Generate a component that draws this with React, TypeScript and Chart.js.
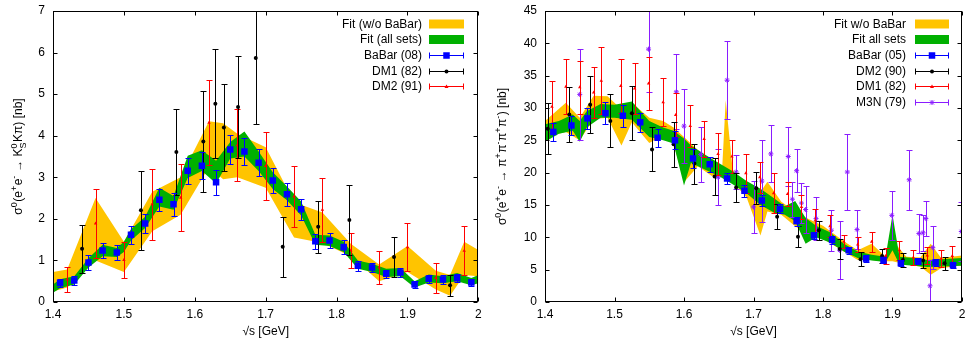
import React, { useEffect, useRef } from 'react';
import { Chart, registerables } from 'chart.js';
Chart.register(...registerables);

const FONT = '"Liberation Sans", Arial, Helvetica, sans-serif';

// ---------------- Left panel: e+e- -> K0S K pi ----------------
const kXTicks = [1.4, 1.5, 1.6, 1.7, 1.8, 1.9, 2.0];
const kYTicks = [0, 1, 2, 3, 4, 5, 6, 7];

const kYelX = [1.40, 1.42, 1.46, 1.50, 1.54, 1.58, 1.62, 1.64, 1.66, 1.70, 1.74, 1.78, 1.82, 1.86, 1.90, 1.94, 1.96, 1.98, 2.00];
const kYelLo = [0.25, 0.35, 1.0, 0.72, 1.7, 2.1, 3.25, 2.95, 3.0, 2.75, 1.55, 1.42, 1.1, 0.5, 0.72, 0.3, 0.15, 0.65, 0.62];
const kYelHi = [0.72, 0.78, 2.5, 1.45, 2.65, 3.0, 4.35, 4.3, 4.05, 3.72, 2.4, 2.15, 1.4, 0.9, 1.35, 0.75, 0.65, 1.45, 1.25];

const kGrnX = [1.40, 1.41, 1.43, 1.45, 1.47, 1.49, 1.50, 1.51, 1.53, 1.55, 1.57, 1.59, 1.61, 1.63, 1.65, 1.67, 1.69, 1.71, 1.73, 1.75, 1.77, 1.79, 1.81, 1.83, 1.85, 1.87, 1.89, 1.91, 1.93, 1.95, 1.97, 1.99, 2.00];
const kGrnLo = [0.22, 0.33, 0.42, 0.83, 1.1, 1.08, 1.2, 1.48, 1.78, 2.3, 2.22, 2.98, 3.15, 2.85, 3.45, 3.5, 3.15, 2.72, 2.45, 2.08, 1.38, 1.35, 1.2, 0.8, 0.72, 0.6, 0.62, 0.35, 0.47, 0.45, 0.5, 0.4, 0.45];
const kGrnHi = [0.42, 0.55, 0.62, 1.05, 1.38, 1.3, 1.45, 1.75, 2.05, 2.75, 2.55, 3.52, 3.65, 3.4, 3.85, 4.1, 3.62, 3.12, 2.78, 2.42, 1.62, 1.6, 1.45, 1.0, 0.92, 0.8, 0.82, 0.5, 0.66, 0.62, 0.7, 0.58, 0.65];

const kBabarX = [1.41, 1.43, 1.45, 1.47, 1.49, 1.51, 1.53, 1.55, 1.57, 1.59, 1.61, 1.63, 1.65, 1.67, 1.69, 1.71, 1.73, 1.75, 1.77, 1.79, 1.81, 1.83, 1.85, 1.87, 1.89, 1.91, 1.93, 1.95, 1.97, 1.99];
const kBabarY = [0.46, 0.52, 0.95, 1.24, 1.19, 1.62, 1.89, 2.46, 2.35, 3.16, 3.28, 2.88, 3.67, 3.62, 3.35, 2.92, 2.59, 2.23, 1.46, 1.48, 1.32, 0.87, 0.83, 0.68, 0.71, 0.42, 0.56, 0.54, 0.57, 0.47];
const kBabarE = [0.1, 0.1, 0.17, 0.18, 0.18, 0.22, 0.23, 0.27, 0.27, 0.31, 0.33, 0.3, 0.35, 0.33, 0.32, 0.3, 0.27, 0.25, 0.18, 0.19, 0.17, 0.12, 0.12, 0.1, 0.1, 0.08, 0.1, 0.1, 0.1, 0.09];

const kDm1X = [1.441, 1.524, 1.574, 1.612, 1.629, 1.641, 1.661, 1.686, 1.724, 1.774, 1.818, 1.881, 1.960];
const kDm1Y = [1.28, 2.21, 3.61, 3.86, 4.77, 4.2, 4.69, 5.87, 1.33, 1.81, 1.97, 1.08, 0.4];
const kDm1E = [0.58, 0.95, 1.04, 1.22, 1.31, 1.04, 1.22, 1.6, 0.72, 0.62, 0.85, 0.49, 0.25];

const kDm2X = [1.42, 1.46, 1.50, 1.54, 1.58, 1.62, 1.66, 1.70, 1.74, 1.78, 1.82, 1.86, 1.90, 1.94, 1.98];
const kDm2Y = [0.54, 1.89, 1.01, 2.35, 2.51, 4.31, 3.77, 3.27, 2.54, 2.22, 1.24, 0.83, 1.32, 0.58, 1.23];
const kDm2E = [0.31, 0.83, 0.44, 0.86, 0.8, 1.02, 0.87, 0.81, 0.73, 0.77, 0.43, 0.39, 0.57, 0.36, 0.59];

// ---------------- Right panel: e+e- -> pi+ pi- pi+ pi- ----------------
const pXTicks = [1.4, 1.5, 1.6, 1.7, 1.8, 1.9, 2.0];
const pYTicks = [0, 5, 10, 15, 20, 25, 30, 35, 40, 45];

const pYelX = [1.40, 1.43, 1.45, 1.47, 1.49, 1.51, 1.525, 1.55, 1.57, 1.585, 1.60, 1.62, 1.64, 1.655, 1.66, 1.67, 1.69, 1.71, 1.72, 1.74, 1.76, 1.78, 1.80, 1.83, 1.85, 1.87, 1.89, 1.90, 1.92, 1.94, 1.955, 1.97, 2.00];
const pYelLo = [25.5, 26.3, 25.0, 28.3, 28.5, 24.2, 27.8, 24.6, 25.8, 24.5, 18.5, 21.0, 19.5, 19.8, 20.0, 18.5, 16.2, 10.3, 14.0, 13.5, 11.7, 10.2, 9.8, 7.8, 6.5, 6.5, 6.3, 6.3, 5.8, 5.5, 4.2, 5.2, 5.7];
const pYelHi = [28.0, 30.8, 28.5, 31.9, 31.8, 29.8, 30.8, 28.5, 28.0, 27.0, 25.5, 23.5, 22.0, 20.8, 31.2, 20.5, 18.0, 17.0, 18.6, 15.5, 14.0, 12.8, 11.8, 9.4, 8.0, 9.0, 7.0, 9.5, 7.0, 6.9, 9.0, 6.8, 7.2];

const pGrnX = [1.40, 1.42, 1.44, 1.45, 1.46, 1.48, 1.50, 1.525, 1.55, 1.57, 1.585, 1.60, 1.61, 1.63, 1.65, 1.67, 1.69, 1.71, 1.73, 1.745, 1.76, 1.775, 1.79, 1.81, 1.83, 1.85, 1.87, 1.89, 1.90, 1.91, 1.93, 1.95, 1.97, 2.00];
const pGrnLo = [24.8, 26.0, 26.5, 24.8, 27.0, 28.5, 28.5, 28.2, 25.5, 25.0, 24.5, 18.0, 21.5, 20.5, 19.5, 18.2, 16.8, 15.0, 13.8, 13.5, 12.5, 9.0, 10.0, 9.2, 7.8, 6.8, 6.4, 6.2, 8.0, 5.8, 5.6, 5.4, 5.5, 5.6];
const pGrnHi = [27.5, 28.0, 29.0, 28.0, 29.5, 30.6, 30.5, 31.0, 28.0, 27.0, 26.5, 25.3, 24.2, 22.8, 21.5, 20.2, 18.7, 17.5, 16.0, 14.8, 15.6, 13.0, 11.8, 10.8, 9.0, 7.8, 7.3, 7.0, 13.5, 7.0, 6.8, 6.5, 6.6, 6.8];

const pBabarX = [1.412, 1.438, 1.461, 1.487, 1.512, 1.537, 1.562, 1.587, 1.613, 1.637, 1.662, 1.687, 1.712, 1.738, 1.762, 1.787, 1.813, 1.837, 1.862, 1.887, 1.912, 1.937, 1.962, 1.987];
const pBabarY = [26.3, 27.3, 28.4, 29.2, 28.8, 27.8, 25.4, 25.0, 22.2, 21.3, 19.1, 17.2, 15.7, 14.4, 12.5, 10.3, 9.6, 8.0, 6.7, 6.5, 6.0, 6.3, 6.1, 5.7];
const pBabarE = [1.4, 1.5, 1.6, 1.7, 1.7, 1.5, 1.4, 1.4, 1.5, 1.2, 0.9, 0.9, 0.8, 0.7, 0.7, 0.6, 0.6, 0.5, 0.5, 0.5, 0.5, 0.5, 0.5, 0.4];

const pDm2X = [1.404, 1.435, 1.465, 1.494, 1.525, 1.554, 1.585, 1.615, 1.644, 1.675, 1.704, 1.734, 1.764, 1.794, 1.824, 1.854, 1.885, 1.915, 1.944, 1.975];
const pDm2Y = [26.8, 29.0, 30.5, 28.0, 29.2, 23.6, 24.4, 21.4, 19.4, 17.7, 17.6, 13.2, 10.1, 11.1, 8.2, 6.6, 7.1, 6.5, 6.4, 6.0];
const pDm2E = [3.9, 4.2, 4.4, 4.1, 4.2, 3.4, 3.5, 3.1, 2.8, 2.3, 2.5, 1.9, 1.6, 1.5, 1.5, 1.1, 1.1, 1.1, 1.2, 1.0];

const pDm1X = [1.41, 1.43, 1.45, 1.47, 1.481, 1.509, 1.529, 1.549, 1.57, 1.588, 1.609, 1.629, 1.649, 1.669, 1.689, 1.709, 1.729, 1.749, 1.769, 1.789, 1.81, 1.83, 1.85, 1.87, 1.89, 1.91, 1.93, 1.95, 1.97, 1.986];
const pDm1Y = [30.2, 33.3, 33.2, 32.4, 34.2, 33.4, 33.0, 33.8, 30.9, 28.9, 27.2, 25.2, 22.9, 22.5, 19.9, 19.3, 16.8, 16.7, 14.7, 12.6, 11.7, 9.3, 8.9, 9.3, 7.1, 8.0, 6.9, 7.2, 6.7, 7.1];
const pDm1E = [3.9, 4.2, 4.1, 4.0, 5.2, 4.1, 4.0, 4.1, 3.7, 3.4, 3.2, 2.8, 3.3, 2.6, 3.0, 2.4, 3.1, 1.9, 1.8, 1.8, 1.7, 1.0, 1.2, 1.5, 1.2, 1.5, 1.2, 1.3, 1.3, 1.5];

const pM3nX = [1.45, 1.549, 1.589, 1.60, 1.624, 1.649, 1.662, 1.675, 1.70, 1.712, 1.725, 1.75, 1.756, 1.762, 1.769, 1.775, 1.79, 1.812, 1.824, 1.835, 1.849, 1.899, 1.924, 1.938, 1.944, 1.948, 1.954, 1.958, 1.999];
const pM3nY = [32.1, 39.1, 32.5, 27.2, 22.8, 19.3, 34.3, 20.1, 14.7, 18.7, 22.9, 22.5, 15.9, 20.3, 15.3, 14.3, 12.9, 11.1, 8.0, 20.1, 11.2, 13.4, 18.9, 10.6, 10.7, 12.9, 2.5, 8.4, 10.9];
const pM3nE = [7.0, 6.6, 5.8, 5.7, 4.3, 4.3, 6.0, 2.6, 4.0, 6.3, 4.4, 4.5, 2.7, 3.3, 3.1, 3.6, 3.3, 3.2, 4.5, 5.9, 3.0, 3.8, 4.6, 3.0, 2.8, 2.7, 4.0, 3.3, 4.6];

const YELLOW = '#ffc400';
const GREEN = '#00b000';
const BLUE = '#0000ff';
const BLACK = '#000000';
const RED = '#ff0000';
const PURPLE = '#8a1cff';

type Seg = { t?: string; sup?: string; sub?: string };
type Band = { x: number[]; lo: number[]; hi: number[]; color: string; label: string };
type Series = { label: string; x: number[]; y: number[]; e: number[]; color: string; style: string; radius: number };

const kTitle: Seg[] = [
  { t: 'σ' }, { sup: '0' }, { t: '(e' }, { sup: '+' }, { t: 'e' }, { sup: '-' }, { t: ' → K' }, { sup: '0', sub: 'S' }, { t: 'Kπ) [nb]' },
];
const pTitle: Seg[] = [
  { t: 'σ' }, { sup: '0' }, { t: '(e' }, { sup: '+' }, { t: 'e' }, { sup: '-' }, { t: ' → π' }, { sup: '+' }, { t: 'π' }, { sup: '-' },
  { t: 'π' }, { sup: '+' }, { t: 'π' }, { sup: '-' }, { t: ') [nb]' },
];

function drawRich(ctx: CanvasRenderingContext2D, segs: Seg[], cx: number, cy: number, size: number) {
  const nf = `${size}px ${FONT}`;
  const sf = `${Math.round(size * 0.72)}px ${FONT}`;
  const widths: number[] = [];
  let w = 0;
  segs.forEach((s) => {
    let m = 0;
    if (s.t !== undefined) {
      ctx.font = nf;
      m = ctx.measureText(s.t).width;
    } else {
      ctx.font = sf;
      m = Math.max(s.sup ? ctx.measureText(s.sup).width : 0, s.sub ? ctx.measureText(s.sub).width : 0) + 0.5;
    }
    widths.push(m);
    w += m;
  });
  ctx.save();
  ctx.translate(cx, cy);
  ctx.rotate(-Math.PI / 2);
  ctx.fillStyle = '#000';
  ctx.textAlign = 'left';
  ctx.textBaseline = 'alphabetic';
  let x = -w / 2;
  const base = size * 0.36;
  segs.forEach((s, i) => {
    if (s.t !== undefined) {
      ctx.font = nf;
      ctx.fillText(s.t, x, base);
    } else {
      ctx.font = sf;
      if (s.sup) ctx.fillText(s.sup, x, base - size * 0.45);
      if (s.sub) ctx.fillText(s.sub, x, base + size * 0.28);
    }
    x += widths[i];
  });
  ctx.restore();
}

function drawMarker(ctx: CanvasRenderingContext2D, style: string, x: number, y: number, r: number, color: string) {
  ctx.save();
  ctx.fillStyle = color;
  ctx.strokeStyle = color;
  ctx.lineWidth = 1;
  if (style === 'rect') {
    const s = r * Math.SQRT1_2;
    ctx.fillRect(x - s, y - s, 2 * s, 2 * s);
  } else if (style === 'circle') {
    ctx.beginPath();
    ctx.arc(x, y, r, 0, Math.PI * 2);
    ctx.fill();
  } else if (style === 'triangle') {
    ctx.beginPath();
    ctx.moveTo(x, y - r);
    ctx.lineTo(x + r, y + r * 0.7);
    ctx.lineTo(x - r, y + r * 0.7);
    ctx.closePath();
    ctx.fill();
  } else {
    const d = r * 0.8;
    ctx.beginPath();
    ctx.moveTo(x - d, y - d); ctx.lineTo(x + d, y + d);
    ctx.moveTo(x + d, y - d); ctx.lineTo(x - d, y + d);
    ctx.moveTo(x - r, y); ctx.lineTo(x + r, y);
    ctx.moveTo(x, y - r); ctx.lineTo(x, y + r);
    ctx.stroke();
  }
  ctx.restore();
}

type PanelProps = {
  width: number;
  yAxisWidth: number;
  yMax: number;
  xTicks: number[];
  yTicks: number[];
  bands: Band[];
  series: Series[];
  title: Seg[];
  titleX: number;
  legendTextRight: number;
  legendSampleL: number;
  legendSampleR: number;
};

function Panel(props: PanelProps) {
  const ref = useRef<HTMLCanvasElement | null>(null);
  useEffect(() => {
    const canvas = ref.current;
    if (!canvas) return;
    const { bands, series } = props;
    const datasets: any[] = [];
    bands.forEach((b, bi) => {
      datasets.push({
        label: b.label + ' lo',
        data: b.x.map((x, i) => ({ x, y: b.lo[i] })),
        borderColor: 'transparent',
        borderWidth: 0,
        pointRadius: 0,
        fill: false,
        tension: 0,
        order: 20 - bi,
      });
      datasets.push({
        label: b.label,
        data: b.x.map((x, i) => ({ x, y: b.hi[i] })),
        borderColor: 'transparent',
        borderWidth: 0,
        pointRadius: 0,
        backgroundColor: b.color,
        fill: '-1',
        tension: 0,
        order: 20 - bi,
      });
    });
    series.forEach((s) => {
      datasets.push({
        label: s.label,
        data: s.x.map((x, i) => ({ x, y: s.y[i] })),
        errors: s.e,
        barColor: s.color,
        showLine: false,
        pointStyle: s.style,
        pointRadius: s.radius,
        pointBackgroundColor: s.color,
        pointBorderColor: s.color,
        pointBorderWidth: s.style === 'star' ? 1 : 0,
        order: 0,
      });
    });

    const errPlugin = {
      id: 'errbars',
      beforeDatasetDraw(chart: any, args: any) {
        const ds: any = chart.data.datasets[args.index];
        if (!ds.errors) return;
        const { ctx, chartArea } = chart;
        const xs = chart.scales.x, ys = chart.scales.y;
        ctx.save();
        ctx.beginPath();
        ctx.rect(chartArea.left, chartArea.top, chartArea.right - chartArea.left, chartArea.bottom - chartArea.top);
        ctx.clip();
        ctx.strokeStyle = ds.barColor;
        ctx.lineWidth = 1;
        ds.data.forEach((p: any, i: number) => {
          const e = ds.errors[i];
          const px = Math.round(xs.getPixelForValue(p.x)) + 0.5;
          const y1 = Math.round(ys.getPixelForValue(p.y + e)) + 0.5;
          const y2 = Math.round(ys.getPixelForValue(p.y - e)) + 0.5;
          ctx.beginPath();
          ctx.moveTo(px, y1); ctx.lineTo(px, y2);
          ctx.moveTo(px - 3, y1); ctx.lineTo(px + 3, y1);
          ctx.moveTo(px - 3, y2); ctx.lineTo(px + 3, y2);
          ctx.stroke();
        });
        ctx.restore();
      },
    };

    const framePlugin = {
      id: 'frame',
      afterDraw(chart: any) {
        const { ctx, chartArea } = chart;
        const xs = chart.scales.x, ys = chart.scales.y;
        const L = Math.round(chartArea.left) + 0.5, R = Math.round(chartArea.right) - 0.5;
        const T = Math.round(chartArea.top) + 0.5, B = Math.round(chartArea.bottom) - 0.5;
        ctx.save();
        ctx.strokeStyle = '#000';
        ctx.lineWidth = 1;
        ctx.strokeRect(L, T, R - L, B - T);
        ctx.beginPath();
        props.xTicks.forEach((v) => {
          const px = Math.round(xs.getPixelForValue(v)) + 0.5;
          ctx.moveTo(px, T); ctx.lineTo(px, T + 4);
          ctx.moveTo(px, B); ctx.lineTo(px, B - 4);
        });
        props.yTicks.forEach((v) => {
          const py = Math.round(ys.getPixelForValue(v)) + 0.5;
          ctx.moveTo(L, py); ctx.lineTo(L + 4, py);
          ctx.moveTo(R, py); ctx.lineTo(R - 4, py);
        });
        ctx.stroke();
        // y-axis title
        drawRich(ctx, props.title, props.titleX, (chartArea.top + chartArea.bottom) / 2, 12);
        ctx.restore();
      },
    };

    const legendPlugin = {
      id: 'glegend',
      afterDraw(chart: any) {
        const { ctx } = chart;
        const y0 = 24, dy = 15.5;
        ctx.save();
        ctx.font = `12px ${FONT}`;
        ctx.textAlign = 'right';
        ctx.textBaseline = 'middle';
        const L = props.legendSampleL, R = props.legendSampleR;
        let row = 0;
        bands.forEach((b) => {
          const y = y0 + row * dy;
          ctx.fillStyle = '#000';
          ctx.fillText(b.label, props.legendTextRight, y + 0.5);
          ctx.fillStyle = b.color;
          ctx.fillRect(L, y - 4.5, R - L, 9);
          row++;
        });
        series.forEach((s) => {
          const y = Math.round(y0 + row * dy) + 0.5;
          ctx.fillStyle = '#000';
          ctx.fillText(s.label, props.legendTextRight, y);
          ctx.strokeStyle = s.color;
          ctx.lineWidth = 1;
          ctx.beginPath();
          ctx.moveTo(L, y); ctx.lineTo(R, y);
          ctx.moveTo(L + 0.5, y - 3); ctx.lineTo(L + 0.5, y + 3);
          ctx.moveTo(R - 0.5, y - 3); ctx.lineTo(R - 0.5, y + 3);
          ctx.stroke();
          drawMarker(ctx, s.style, (L + R) / 2, y, s.style === 'rect' ? 4.6 : s.radius, s.color);
          row++;
        });
        ctx.restore();
      },
    };

    const tickFont = { family: FONT, size: 12 };
    const chart = new Chart(canvas, {
      type: 'line',
      data: { datasets },
      options: {
        responsive: false,
        animation: false,
        devicePixelRatio: 1,
        layout: { padding: { left: 0, top: 11, right: 4, bottom: 0 } },
        plugins: { legend: { display: false }, tooltip: { enabled: false } },
        elements: { line: { borderWidth: 0 } },
        scales: {
          x: {
            type: 'linear',
            min: 1.4,
            max: 2.0,
            grid: { display: false, drawTicks: false },
            border: { display: false },
            ticks: {
              stepSize: 0.1,
              padding: 5,
              color: '#000',
              font: tickFont,
              maxRotation: 0,
              callback: (v: any) => String(Math.round(Number(v) * 10) / 10),
            },
            title: { display: true, text: '√s [GeV]', color: '#000', font: tickFont, padding: { top: 0, bottom: 0 } },
            afterFit: (s: any) => { s.height = 37; s.paddingLeft = 0; s.paddingRight = 0; },
          },
          y: {
            type: 'linear',
            min: 0,
            max: props.yMax,
            grid: { display: false, drawTicks: false },
            border: { display: false },
            ticks: {
              stepSize: props.yTicks[1] - props.yTicks[0],
              padding: 8,
              color: '#000',
              font: tickFont,
            },
            afterFit: (s: any) => { s.width = props.yAxisWidth; s.paddingTop = 0; s.paddingBottom = 0; },
          },
        },
      } as any,
      plugins: [errPlugin, framePlugin, legendPlugin],
    });
    return () => chart.destroy();
  }, []);
  return <canvas ref={ref} width={props.width} height={339} style={{ display: 'block' }} />;
}

export default function App() {
  const leftBands: Band[] = [
    { x: kYelX, lo: kYelLo, hi: kYelHi, color: YELLOW, label: 'Fit (w/o BaBar)' },
    { x: kGrnX, lo: kGrnLo, hi: kGrnHi, color: GREEN, label: 'Fit (all sets)' },
  ];
  const leftSeries: Series[] = [
    { label: 'BaBar (08)', x: kBabarX, y: kBabarY, e: kBabarE, color: BLUE, style: 'rect', radius: 4.6 },
    { label: 'DM1 (82)', x: kDm1X, y: kDm1Y, e: kDm1E, color: BLACK, style: 'circle', radius: 2 },
    { label: 'DM2 (91)', x: kDm2X, y: kDm2Y, e: kDm2E, color: RED, style: 'triangle', radius: 2 },
  ];
  const rightBands: Band[] = [
    { x: pYelX, lo: pYelLo, hi: pYelHi, color: YELLOW, label: 'Fit w/o BaBar' },
    { x: pGrnX, lo: pGrnLo, hi: pGrnHi, color: GREEN, label: 'Fit all sets' },
  ];
  const rightSeries: Series[] = [
    { label: 'BaBar (05)', x: pBabarX, y: pBabarY, e: pBabarE, color: BLUE, style: 'rect', radius: 4.6 },
    { label: 'DM2 (90)', x: pDm2X, y: pDm2Y, e: pDm2E, color: BLACK, style: 'circle', radius: 2 },
    { label: 'DM1 (82)', x: pDm1X, y: pDm1Y, e: pDm1E, color: RED, style: 'triangle', radius: 2 },
    { label: 'M3N (79)', x: pM3nX, y: pM3nY, e: pM3nE, color: PURPLE, style: 'star', radius: 2.5 },
  ];
  return (
    <div style={{ position: 'fixed', left: 0, top: 0, width: 967, height: 339, background: '#fff', overflow: 'hidden' }}>
      <div style={{ position: 'absolute', left: 0, top: 0, width: 483, height: 339 }}>
        <Panel width={483} yAxisWidth={53} yMax={7} xTicks={kXTicks} yTicks={kYTicks} bands={leftBands} series={leftSeries}
          title={kTitle} titleX={18} legendTextRight={422} legendSampleL={429} legendSampleR={464} />
      </div>
      <div style={{ position: 'absolute', left: 483, top: 0, width: 484, height: 339 }}>
        <Panel width={484} yAxisWidth={62} yMax={45} xTicks={pXTicks} yTicks={pYTicks} bands={rightBands} series={rightSeries}
          title={pTitle} titleX={19} legendTextRight={423} legendSampleL={432} legendSampleR={466} />
      </div>
    </div>
  );
}
